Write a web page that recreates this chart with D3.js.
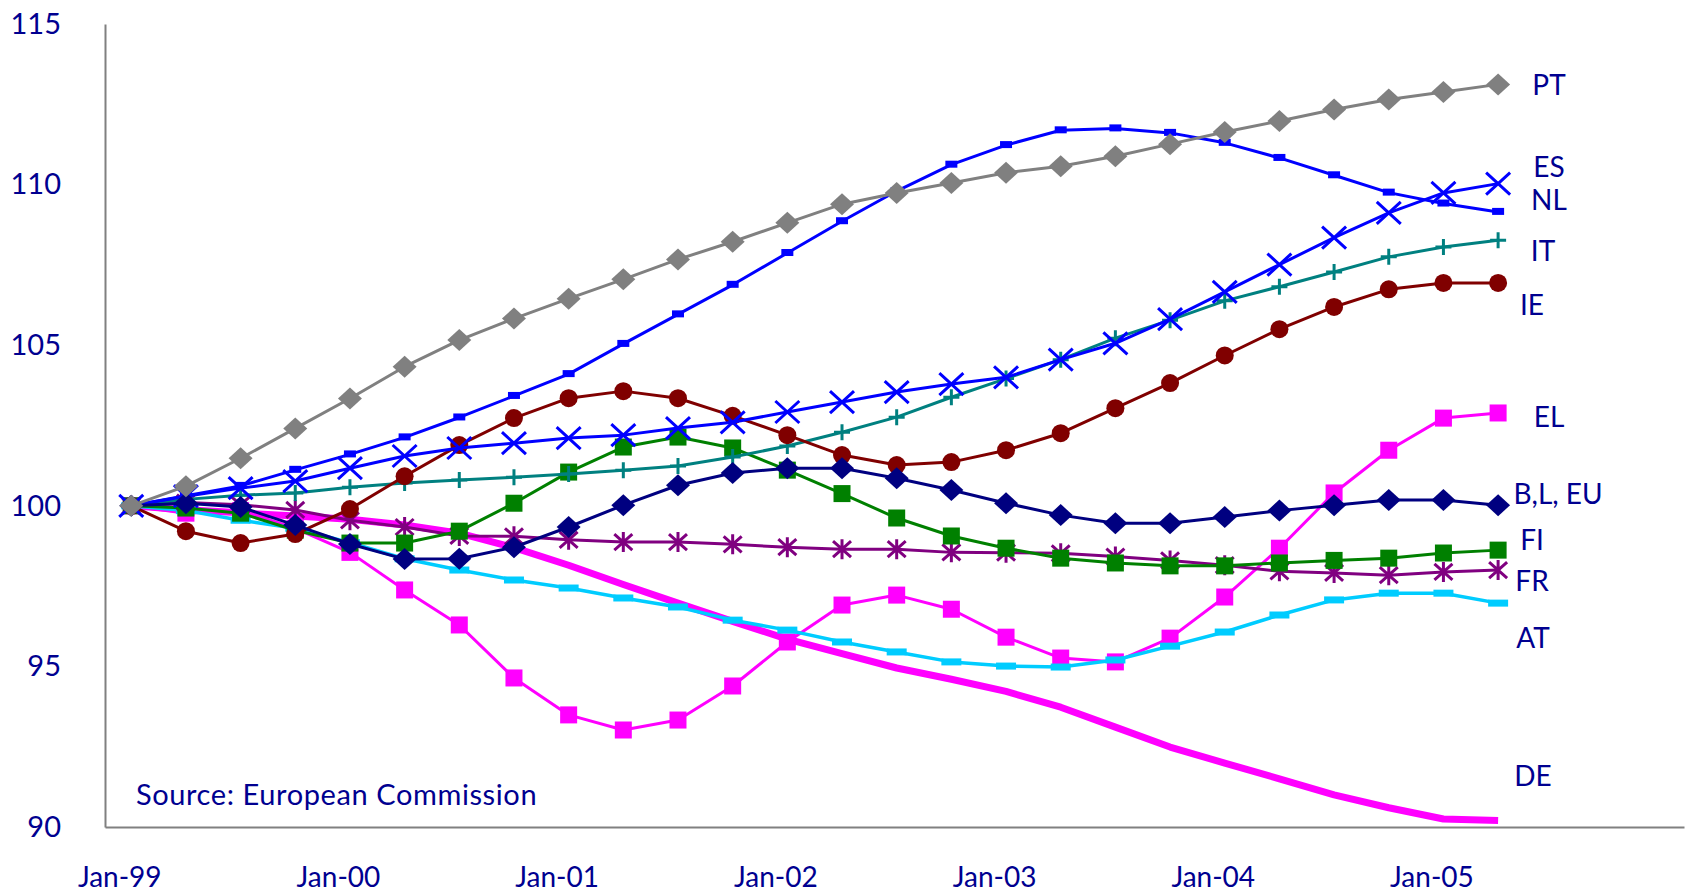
<!DOCTYPE html>
<html>
<head>
<meta charset="utf-8">
<script src="https://cdn.jsdelivr.net/npm/d3@7"></script>
<style>
  body { margin: 0; background: #fff; }
  text { font-family: Lato, "Open Sans", sans-serif; fill: #000090; }
</style>
</head>
<body>
<svg id="chart" width="1687" height="893"></svg>
<script>
// quarterly index, Jan-99 = 100
var quarters = ['Jan-99','Apr-99','Jul-99','Oct-99','Jan-00','Apr-00','Jul-00','Oct-00',
  'Jan-01','Apr-01','Jul-01','Oct-01','Jan-02','Apr-02','Jul-02','Oct-02',
  'Jan-03','Apr-03','Jul-03','Oct-03','Jan-04','Apr-04','Jul-04','Oct-04','Jan-05','Apr-05'];
var tickLabels = ['Jan-99','Jan-00','Jan-01','Jan-02','Jan-03','Jan-04','Jan-05'];
var yTicks = [90, 95, 100, 105, 110, 115];

var PT = [100, 100.61, 101.48, 102.41, 103.34, 104.33, 105.16, 105.83, 106.45, 107.05, 107.67, 108.22, 108.81,
  109.39, 109.74, 110.05, 110.37, 110.57, 110.88, 111.26, 111.64, 111.98, 112.34, 112.65, 112.88, 113.12];
var ES = [100, 100.3, 100.55, 100.77, 101.17, 101.55, 101.8, 101.95, 102.11, 102.2, 102.42, 102.6, 102.92,
  103.23, 103.54, 103.79, 104.0, 104.55, 105.06, 105.81, 106.66, 107.51, 108.35, 109.12, 109.74, 110.03];
var NL = [100, 100.31, 100.62, 101.12, 101.6, 102.13, 102.75, 103.42, 104.1, 105.04, 105.96, 106.88, 107.87,
  108.86, 109.8, 110.62, 111.23, 111.69, 111.75, 111.61, 111.3, 110.83, 110.29, 109.75, 109.41, 109.15];
var IT = [100, 100.2, 100.33, 100.4, 100.58, 100.71, 100.8, 100.89, 100.99, 101.11, 101.24, 101.52, 101.86,
  102.29, 102.76, 103.38, 103.96, 104.55, 105.22, 105.78, 106.38, 106.82, 107.28, 107.75, 108.06, 108.27];
var IE = [100, 99.21, 98.84, 99.12, 99.9, 100.92, 101.89, 102.73, 103.35, 103.57, 103.35, 102.8, 102.2,
  101.58, 101.27, 101.36, 101.73, 102.26, 103.04, 103.82, 104.68, 105.5, 106.19, 106.74, 106.94, 106.94];
var EL = [100, 99.77, 99.85, 99.3, 98.55, 97.38, 96.29, 94.64, 93.49, 93.02, 93.33, 94.39, 95.76,
  96.91, 97.22, 96.78, 95.91, 95.26, 95.14, 95.88, 97.16, 98.68, 100.4, 101.73, 102.73, 102.89];
var BLEU = [100, 100.08, 99.96, 99.4, 98.81, 98.34, 98.35, 98.71, 99.34, 100.02, 100.64, 101.02, 101.17,
  101.17, 100.86, 100.49, 100.08, 99.71, 99.46, 99.46, 99.65, 99.85, 100.02, 100.18, 100.18, 100.02];
var FI = [100, 99.93, 99.77, 99.24, 98.84, 98.84, 99.21, 100.08, 101.05, 101.83, 102.14, 101.8, 101.11,
  100.38, 99.62, 99.06, 98.68, 98.37, 98.22, 98.13, 98.13, 98.22, 98.3, 98.37, 98.53, 98.62];
var FR = [100, 100.1, 100.03, 99.87, 99.55, 99.34, 99.06, 99.05, 98.94, 98.87, 98.87, 98.8, 98.71,
  98.65, 98.65, 98.55, 98.54, 98.52, 98.42, 98.3, 98.15, 97.96, 97.91, 97.84, 97.94, 98.0];
var AT = [100, 99.85, 99.55, 99.3, 98.85, 98.35, 98.0, 97.69, 97.44, 97.13, 96.85, 96.44, 96.13,
  95.76, 95.45, 95.14, 95.01, 94.98, 95.2, 95.63, 96.07, 96.6, 97.07, 97.28, 97.28, 96.97];
var DE = [100, 99.88, 99.78, 99.68, 99.58, 99.4, 99.15, 98.7, 98.15, 97.55, 96.97, 96.4, 95.85,
  95.4, 94.95, 94.6, 94.22, 93.73, 93.11, 92.49, 91.99, 91.5, 91.0, 90.6, 90.25, 90.2];

// drawing order: bottom to top
var series = [
  {name: 'EL', values: EL, color: '#FF00FF', width: 3, marker: 'square'},
  {name: 'DE', values: DE, color: '#FF00FF', width: 7, marker: 'none'},
  {name: 'AT', values: AT, color: '#00CCFF', width: 3.5, marker: 'bar'},
  {name: 'FR', values: FR, color: '#800080', width: 3, marker: 'asterisk'},
  {name: 'FI', values: FI, color: '#008000', width: 3, marker: 'square'},
  {name: 'IT', values: IT, color: '#008080', width: 3, marker: 'plus'},
  {name: 'IE', values: IE, color: '#800000', width: 3, marker: 'circle'},
  {name: 'ES', values: ES, color: '#0000FF', width: 3, marker: 'x'},
  {name: 'NL', values: NL, color: '#0000FF', width: 3, marker: 'dash'},
  {name: 'B,L, EU', values: BLEU, color: '#000080', width: 3, marker: 'diamond'},
  {name: 'PT', values: PT, color: '#808080', width: 3, marker: 'diamond'}
];

// where the end labels sit (value level, x centre)
var endLabels = [
  ['PT', 113.09, 1549], ['ES', 110.54, 1549], ['NL', 109.51, 1549], ['IT', 107.93, 1543],
  ['IE', 106.25, 1532], ['EL', 102.76, 1549], ['B,L, EU', 100.37, 1558], ['FI', 98.93, 1532],
  ['FR', 97.65, 1532], ['AT', 95.88, 1533], ['DE', 91.59, 1533]
];

var svg = d3.select('#chart');
svg.append('rect').attr('width', 1687).attr('height', 893).attr('fill', '#fff');

var x = d3.scaleLinear().domain([-0.48, 28.4]).range([105, 1684]);
var y = d3.scaleLinear().domain([90, 115]).range([827, 24]);

// axes
var xAxis = svg.append('g')
  .attr('transform', 'translate(0,827)')
  .call(d3.axisBottom(x)
    .tickValues(d3.range(0, quarters.length, 4))
    .tickFormat(function (i) { return quarters[i]; })
    .tickSize(0)
    .tickSizeOuter(0)
    .tickPadding(0));
xAxis.select('.domain').attr('stroke', '#808080').attr('stroke-width', 2);
xAxis.selectAll('text')
  .attr('dx', -12)
  .attr('y', 60)
  .attr('dy', 0)
  .style('font-size', '28px');

var yAxis = svg.append('g')
  .attr('transform', 'translate(105,0)')
  .call(d3.axisLeft(y)
    .tickValues(yTicks)
    .tickSize(0)
    .tickSizeOuter(0)
    .tickPadding(44));
yAxis.select('.domain').attr('stroke', '#808080').attr('stroke-width', 2);
yAxis.selectAll('text')
  .attr('dy', '0.32em')
  .style('font-size', '29px');

var line = d3.line()
  .x(function (d, i) { return x(i); })
  .y(function (d) { return y(d); });

function drawMarker(g, type, color) {
  if (type === 'square') {
    g.append('rect').attr('x', -8.5).attr('y', -8.5).attr('width', 17).attr('height', 17).attr('fill', color);
  } else if (type === 'circle') {
    g.append('circle').attr('r', 9).attr('fill', color);
  } else if (type === 'diamond') {
    g.append('path').attr('d', 'M0,-11L12,0L0,11L-12,0Z').attr('fill', color);
  } else if (type === 'dash') {
    g.append('rect').attr('x', -6).attr('y', -4).attr('width', 12).attr('height', 7).attr('fill', color);
  } else if (type === 'bar') {
    g.append('rect').attr('x', -10).attr('y', -3.5).attr('width', 20).attr('height', 7).attr('fill', color);
  } else if (type === 'x') {
    g.append('path').attr('d', 'M-12,-11L12,11M-12,11L12,-11')
      .attr('stroke', color).attr('stroke-width', 3).attr('fill', 'none');
  } else if (type === 'plus') {
    g.append('path').attr('d', 'M-8,0L8,0M0,-8L0,8')
      .attr('stroke', color).attr('stroke-width', 3).attr('fill', 'none');
  } else if (type === 'asterisk') {
    g.append('path').attr('d', 'M-9,-8L9,8M-9,8L9,-8M0,-10L0,10')
      .attr('stroke', color).attr('stroke-width', 3).attr('fill', 'none');
  }
}

series.forEach(function (s) {
  svg.append('path')
    .datum(s.values)
    .attr('d', line)
    .attr('fill', 'none')
    .attr('stroke', s.color)
    .attr('stroke-width', s.width)
    .attr('stroke-linejoin', 'round');

  if (s.marker !== 'none') {
    svg.selectAll(null)
      .data(s.values)
      .enter()
      .append('g')
      .attr('transform', function (d, i) { return 'translate(' + x(i) + ',' + y(d) + ')'; })
      .each(function () { drawMarker(d3.select(this), s.marker, s.color); });
  }
});

svg.selectAll('.end-label')
  .data(endLabels)
  .enter()
  .append('text')
  .attr('class', 'end-label')
  .attr('x', function (d) { return d[2]; })
  .attr('y', function (d) { return y(d[1]); })
  .attr('dy', '0.35em')
  .attr('text-anchor', 'middle')
  .style('font-size', '28px')
  .text(function (d) { return d[0]; });

svg.append('text')
  .attr('x', 136)
  .attr('y', 805)
  .style('font-size', '29px')
  .style('letter-spacing', '0.6px')
  .text('Source: European Commission');
</script>
</body>
</html>
